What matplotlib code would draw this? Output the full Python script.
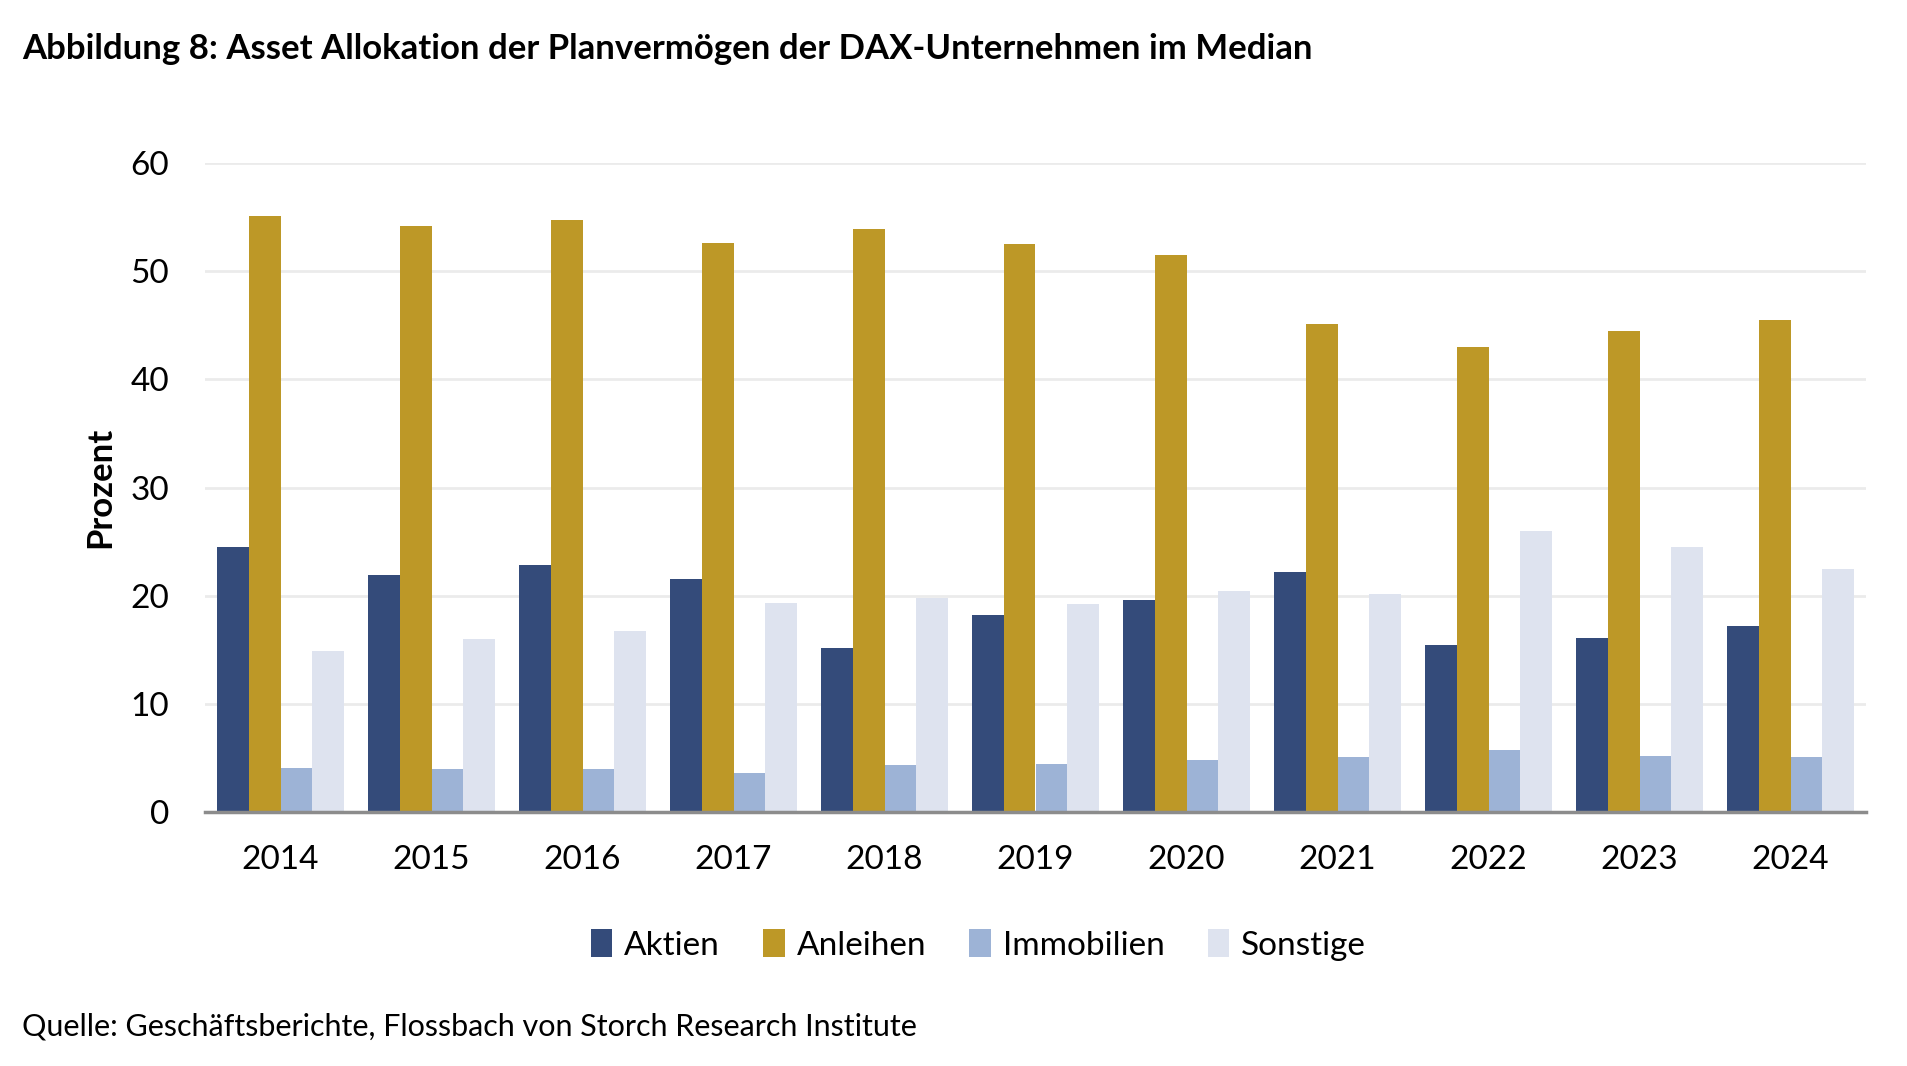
import matplotlib.pyplot as plt
import numpy as np

jahre = ["2014", "2015", "2016", "2017", "2018", "2019", "2020", "2021", "2022", "2023", "2024"]
aktien = [24.5, 21.9, 22.8, 21.5, 15.2, 18.2, 19.6, 22.2, 15.4, 16.1, 17.2]
anleihen = [55.1, 54.2, 54.7, 52.6, 53.9, 52.5, 51.5, 45.1, 43.0, 44.5, 45.5]
immobilien = [4.1, 4.0, 4.0, 3.6, 4.3, 4.4, 4.8, 5.1, 5.7, 5.2, 5.1]
sonstige = [14.9, 16.0, 16.7, 19.3, 19.8, 19.2, 20.4, 20.2, 26.0, 24.5, 22.5]

serien = ["Aktien", "Anleihen", "Immobilien", "Sonstige"]
farben = ["#344B7A", "#BD9827", "#9DB3D6", "#DEE3EF"]

plt.rcParams['font.family'] = ['Lato', 'DejaVu Sans']

fig = plt.figure(figsize=(19.07, 10.66), dpi=100)
ax = fig.add_axes([205/1907, 1 - 812/1066, (1866-205)/1907, (812-163)/1066])

x = np.arange(len(jahre))
breite = 0.21
for i, (werte, name, farbe) in enumerate(zip([aktien, anleihen, immobilien, sonstige], serien, farben)):
    ax.bar(x + (i - 1.5) * breite, werte, breite, color=farbe, label=name, zorder=3)

ax.set_xlim(-0.5, len(jahre) - 0.5)
ax.set_ylim(0, 60)
ax.set_yticks(range(0, 61, 10))
ax.set_xticks(x)
ax.set_xticklabels(jahre)
ax.tick_params(axis='both', length=0, labelsize=24)
ax.tick_params(axis='y', pad=26)
ax.tick_params(axis='x', pad=24)
ax.grid(axis='y', color='#EBEBEB', linewidth=2, zorder=0)
for s in ['top', 'right', 'left']:
    ax.spines[s].set_visible(False)
ax.spines['bottom'].set_color('#8C8C8C')
ax.spines['bottom'].set_linewidth(2.5)
ax.spines['bottom'].set_zorder(4)
ax.set_ylabel("Prozent", fontsize=25, fontweight='bold', labelpad=10)

fig.text(22/1907, 1 - 49/1066, "Abbildung 8: Asset Allokation der Planvermögen der DAX-Unternehmen im Median",
         fontsize=25, fontweight='bold', va='center', ha='left')
fig.text(22/1907, 1 - 1027/1066, "Quelle: Geschäftsberichte, Flossbach von Storch Research Institute",
         fontsize=22, va='center', ha='left')

fig.legend(loc='center', bbox_to_anchor=(0.513, 1 - 945/1066), ncol=4, frameon=False,
           fontsize=24, handlelength=0.65, handleheight=0.9, handletextpad=0.35, columnspacing=1.3)

fig.savefig("out.png", dpi=100, facecolor='white')
